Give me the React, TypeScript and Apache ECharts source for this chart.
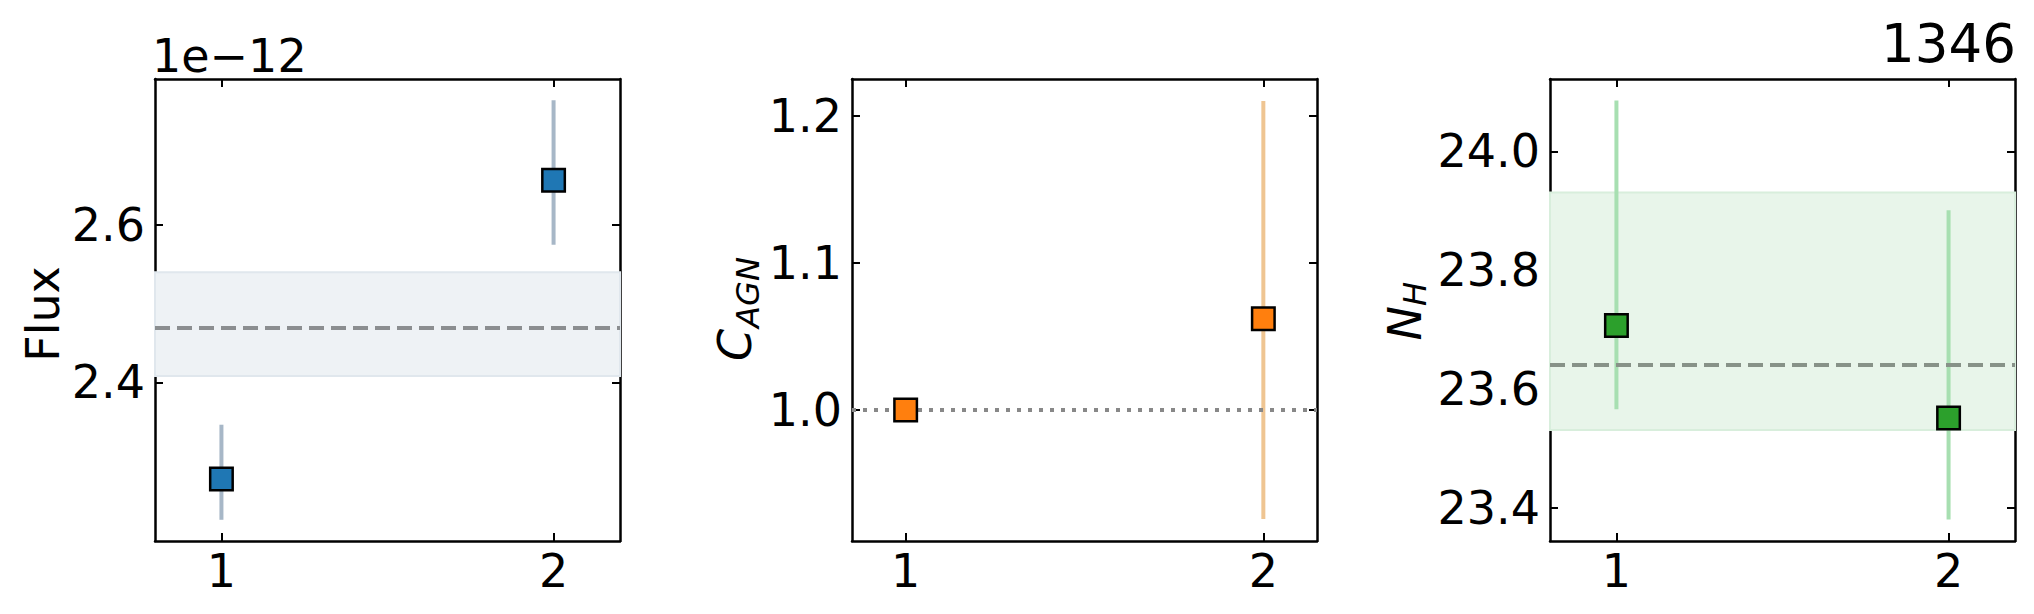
import React, { useEffect, useRef } from "react";
import * as echarts from "echarts";

// ---------- data ----------
const xPositions = [1, 2];
const xTickValues = [1, 2];

// Panel 1: Flux (in units of 1e-12)
const fluxValues = [2.277, 2.657];
const fluxErrLow = [2.225, 2.575];
const fluxErrHigh = [2.346, 2.759];
const fluxMean = 2.468;
const fluxBand = [2.408, 2.54];
const fluxTicks = [2.4, 2.6];
const fluxOffsetText = "1e\u221212";

// Panel 2: C_AGN
const cagnValues = [1.0, 1.062];
const cagnErrLow: (number | null)[] = [null, 0.926];
const cagnErrHigh: (number | null)[] = [null, 1.21];
const cagnRef = 1.0;
const cagnTicks = [1.0, 1.1, 1.2];

// Panel 3: N_H
const nhValues = [23.707, 23.551];
const nhErrLow = [23.566, 23.38];
const nhErrHigh = [24.086, 23.901];
const nhMean = 23.637;
const nhBand = [23.531, 23.931];
const nhTicks = [23.4, 23.6, 23.8, 24.0];

const titleText = "1346";

// ---------- layout / style ----------
const FONT = "DejaVu Sans";
const FS = 46;
const SUB_FS = 32.2;
const TITLE_FS = 53;
const GRID_TOP = 79;
const GRID_W = 465;
const GRID_H = 462;
const GRID_LEFTS = [155, 852, 1550];
const X_RANGES = [
  [0.8, 2.2],
  [0.85, 2.15],
  [0.8, 2.2],
];
const Y_RANGES = [
  [2.198, 2.786],
  [0.911, 1.225],
  [23.344, 24.122],
];

type Panel = {
  values: number[];
  low: (number | null)[];
  high: (number | null)[];
  ticks: number[];
  color: string;
  errColor: string;
  band?: number[];
  bandFill?: string;
  bandEdge?: string;
  refLine: number;
  refColor: string;
  refType: number[];
};

const panels: Panel[] = [
  {
    values: fluxValues,
    low: fluxErrLow,
    high: fluxErrHigh,
    ticks: fluxTicks,
    color: "#1f77b4",
    errColor: "#a7b7c7",
    band: fluxBand,
    bandFill: "#eef2f5",
    bandEdge: "#e0e7ed",
    refLine: fluxMean,
    refColor: "#8b8e90",
    refType: [15, 7],
  },
  {
    values: cagnValues,
    low: cagnErrLow,
    high: cagnErrHigh,
    ticks: cagnTicks,
    color: "#ff7f0e",
    errColor: "#efc592",
    refLine: cagnRef,
    refColor: "#888888",
    refType: [4, 7],
  },
  {
    values: nhValues,
    low: nhErrLow,
    high: nhErrHigh,
    ticks: nhTicks,
    color: "#2ca02c",
    errColor: "#a7dfb1",
    band: nhBand,
    bandFill: "#e8f5ea",
    bandEdge: "#d8eedc",
    refLine: nhMean,
    refColor: "#879288",
    refType: [15, 7],
  },
];

type Part = { text: string; fs: number; italic: boolean; start: number; base: number };

// Vertical (bottom-to-top) label; `base` = baseline offset (px, rightwards on screen)
// from baselineX; `start` = local offset along the text direction from centerY.
function rotatedLabel(parts: Part[], baselineX: number, centerY: number) {
  return {
    type: "group",
    x: baselineX,
    y: centerY,
    rotation: Math.PI / 2,
    children: parts.map((p) => ({
      type: "text",
      x: p.start,
      y: p.base - 0.346 * p.fs,
      style: {
        text: p.text,
        font: `${p.italic ? "italic " : ""}${p.fs}px '${FONT}'`,
        fill: "#000",
        align: "left",
        verticalAlign: "middle",
      },
    })),
  };
}

export default function App() {
  const ref = useRef<HTMLDivElement>(null);

  useEffect(() => {
    if (!ref.current) return;
    const chart = echarts.init(ref.current, null, { renderer: "svg" });

    const grid: any[] = [];
    const xAxis: any[] = [];
    const yAxis: any[] = [];
    const series: any[] = [];

    const axisLine = { show: true, onZero: false, lineStyle: { color: "#000", width: 2.5 } };
    const tickStyle = { color: "#000", width: 2 };

    panels.forEach((p, i) => {
      grid.push({
        left: GRID_LEFTS[i],
        top: GRID_TOP,
        width: GRID_W,
        height: GRID_H,
        containLabel: false,
      });
      const [xmin, xmax] = X_RANGES[i];
      const [ymin, ymax] = Y_RANGES[i];
      ["bottom", "top"].forEach((pos) => {
        xAxis.push({
          type: "value",
          gridIndex: i,
          position: pos,
          min: xmin,
          max: xmax,
          axisLine,
          axisTick: {
            show: true,
            inside: true,
            length: 8,
            lineStyle: tickStyle,
            customValues: xTickValues,
          },
          axisLabel: {
            show: pos === "bottom",
            customValues: xTickValues,
            fontSize: FS,
            fontFamily: FONT,
            color: "#000",
            margin: 7,
            formatter: (v: number) => String(v),
          },
          splitLine: { show: false },
        });
      });
      ["left", "right"].forEach((pos) => {
        yAxis.push({
          type: "value",
          gridIndex: i,
          position: pos,
          min: ymin,
          max: ymax,
          axisLine,
          axisTick: {
            show: true,
            inside: true,
            length: 8,
            lineStyle: tickStyle,
            customValues: p.ticks,
          },
          axisLabel: {
            show: pos === "left",
            customValues: p.ticks,
            fontSize: FS,
            fontFamily: FONT,
            color: "#000",
            margin: 10,
            formatter: (v: number) => v.toFixed(1),
          },
          splitLine: { show: false },
        });
      });

      const xi = i * 2;
      const yi = i * 2;

      // band + reference line
      series.push({
        type: "line",
        xAxisIndex: xi,
        yAxisIndex: yi,
        data: [],
        z: 1,
        silent: true,
        markArea: p.band
          ? {
              silent: true,
              itemStyle: {
                color: p.bandFill,
                borderColor: p.bandEdge,
                borderWidth: 2,
              },
              data: [[{ yAxis: p.band[0] }, { yAxis: p.band[1] }]],
            }
          : undefined,
        markLine: {
          silent: true,
          symbol: ["none", "none"],
          label: { show: false },
          lineStyle: { color: p.refColor, width: 4, type: p.refType },
          data: [{ yAxis: p.refLine }],
        },
      });

      // error bars
      const errData: number[][] = [];
      xPositions.forEach((x, k) => {
        const lo = p.low[k];
        const hi = p.high[k];
        if (lo != null && hi != null) errData.push([x, lo, hi]);
      });
      series.push({
        type: "custom",
        xAxisIndex: xi,
        yAxisIndex: yi,
        z: 3,
        silent: true,
        encode: { x: 0, y: [1, 2] },
        data: errData,
        renderItem: (_params: any, api: any) => {
          const a = api.coord([api.value(0), api.value(1)]);
          const b = api.coord([api.value(0), api.value(2)]);
          return {
            type: "line",
            shape: { x1: a[0], y1: a[1], x2: b[0], y2: b[1] },
            style: { stroke: p.errColor, lineWidth: 4 },
          };
        },
      });

      // points
      series.push({
        type: "scatter",
        xAxisIndex: xi,
        yAxisIndex: yi,
        z: 5,
        symbol: "rect",
        symbolSize: 22.5,
        itemStyle: { color: p.color, borderColor: "#000", borderWidth: 2.5, opacity: 1 },
        data: xPositions.map((x, k) => [x, p.values[k]]),
      });
    });

    const graphic: any[] = [
      {
        type: "text",
        x: 152,
        y: 71.7 - 0.346 * FS,
        style: {
          text: fluxOffsetText,
          font: `${FS}px '${FONT}'`,
          fill: "#000",
          align: "left",
          verticalAlign: "middle",
        },
      },
      {
        type: "text",
        x: 2016,
        y: 61.7 - 0.346 * TITLE_FS,
        style: {
          text: titleText,
          font: `${TITLE_FS}px '${FONT}'`,
          fill: "#000",
          align: "left",
          verticalAlign: "middle",
        },
      },
      rotatedLabel([{ text: "Flux", fs: FS, italic: false, start: -47.8, base: 0 }], 58.5, 314),
      rotatedLabel(
        [
          { text: "C", fs: FS, italic: true, start: -51, base: 0 },
          { text: "AGN", fs: SUB_FS, italic: true, start: -18, base: 8 },
        ],
        751,
        310
      ),
      rotatedLabel(
        [
          { text: "N", fs: FS, italic: true, start: -28.4, base: 0 },
          { text: "H", fs: SUB_FS, italic: true, start: 6, base: 5 },
        ],
        1421,
        312
      ),
    ];
    // title is right-aligned at the plot's right edge
    (graphic[1].style as any).align = "right";

    chart.setOption({
      animation: false,
      backgroundColor: "#fff",
      grid,
      xAxis,
      yAxis,
      series,
      graphic,
    });

    return () => chart.dispose();
  }, []);

  return (
    <div
      ref={ref}
      style={{ position: "fixed", left: 0, top: 0, width: 2034, height: 614 }}
    />
  );
}
